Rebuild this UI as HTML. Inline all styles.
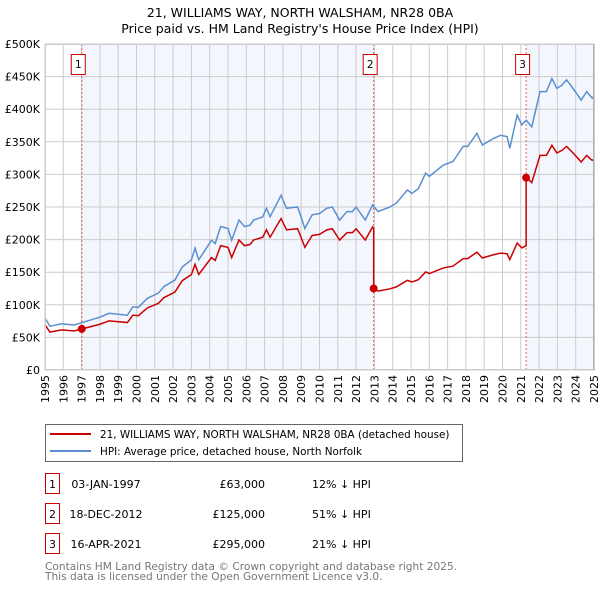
<!DOCTYPE html>
<html><head><meta charset="utf-8">
<style>
body{margin:0;background:#fff;font-family:"DejaVu Sans","Liberation Sans",sans-serif;}
svg text{font-family:"DejaVu Sans","Liberation Sans",sans-serif;}
</style></head>
<body>
<svg id="chart" width="600" height="590" xmlns="http://www.w3.org/2000/svg">
<text x="300" y="17" text-anchor="middle" font-size="12.5" fill="#000">21, WILLIAMS WAY, NORTH WALSHAM, NR28 0BA</text>
<text x="300" y="33" text-anchor="middle" font-size="12.5" fill="#000">Price paid vs. HM Land Registry's House Price Index (HPI)</text>
<g id="plot"></g>
<g>
<rect x="45.5" y="424.5" width="417" height="37" fill="#fff" stroke="#666"/>
<line x1="50" y1="434" x2="91" y2="434" stroke="#cc0000" stroke-width="2"/>
<text x="100" y="438" font-size="10.4">21, WILLIAMS WAY, NORTH WALSHAM, NR28 0BA (detached house)</text>
<line x1="50" y1="451" x2="91" y2="451" stroke="#5b8fd0" stroke-width="2"/>
<text x="100" y="455" font-size="10.4">HPI: Average price, detached house, North Norfolk</text>
</g>
<g id="table"></g>
<text x="45" y="570" font-size="10.6" fill="#777">Contains HM Land Registry data © Crown copyright and database right 2025.</text>
<text x="45" y="580" font-size="10.6" fill="#777">This data is licensed under the Open Government Licence v3.0.</text>
</svg>
<script>
const hpiYears=[1995.0,1995.27,1995.9,1996.6,1997.0,1998.0,1998.5,1999.5,1999.8,2000.1,2000.6,2001.2,2001.5,2002.1,2002.5,2003.0,2003.2,2003.4,2004.1,2004.3,2004.6,2005.0,2005.2,2005.6,2005.9,2006.2,2006.4,2006.9,2007.1,2007.3,2007.9,2008.2,2008.8,2008.93,2009.2,2009.6,2010.0,2010.4,2010.7,2011.1,2011.5,2011.8,2012.0,2012.5,2012.9,2013.2,2013.85,2014.2,2014.8,2015.05,2015.4,2015.8,2016.0,2016.75,2017.3,2017.85,2018.1,2018.6,2018.9,2019.5,2019.9,2020.25,2020.4,2020.8,2021.05,2021.3,2021.6,2022.05,2022.4,2022.7,2022.97,2023.25,2023.5,2023.85,2024.3,2024.6,2024.9,2025.0];
const hpiValues=[80,67,71,69,72.6,81,87,84,97,96,110,118,128,138,158,169,187,169,199,194,220,217,199,230,220,222,230,235,248,235,268,248,250,240,217,238,240,248,250,230,243,243,250,230,253,243,250,256,276,271,278,302,297,314,320,343,343,363,345,355,360,358,340,391,376,383,373,427,427,447,432,437,445,432,414,427,417,420];
const saleYears=[1997.01,2012.96,2021.29];
const salePrices=[63000,125000,295000];
const saleLabels=["1","2","3"];
const saleDates=["03-JAN-1997","18-DEC-2012","16-APR-2021"];
const salePriceText=["£63,000","£125,000","£295,000"];
const salePctText=["12% ↓ HPI","51% ↓ HPI","21% ↓ HPI"];
const yTicks=[0,50,100,150,200,250,300,350,400,450,500];
const yTickLabels=["£0","£50K","£100K","£150K","£200K","£250K","£300K","£350K","£400K","£450K","£500K"];
const xStart=1995,xEnd=2025;

const X0=45,X1=594,Y0=370,Y1=44;
const xs=t=>X0+(t-xStart)/(xEnd-xStart)*(X1-X0);
const ys=v=>Y0-v/500*(Y0-Y1);
const NS="http://www.w3.org/2000/svg";
const plot=document.getElementById('plot');
function mk(tag,attrs,parent){const e=document.createElementNS(NS,tag);for(const k in attrs)e.setAttribute(k,attrs[k]);(parent||plot).appendChild(e);return e;}
function hpiAt(t){for(let i=1;i<hpiYears.length;i++){if(t<=hpiYears[i]){const f=(t-hpiYears[i-1])/(hpiYears[i]-hpiYears[i-1]);return hpiValues[i-1]+f*(hpiValues[i]-hpiValues[i-1]);}}return hpiValues[hpiValues.length-1];}

const bands=[[saleYears[0],saleYears[1]],[saleYears[2],xEnd]];
bands.forEach(b=>{const r=mk('rect',{x:xs(b[0]),y:Y1,width:xs(b[1])-xs(b[0]),height:Y0-Y1,fill:'#f3f6fd'});

});
for(let yr=xStart;yr<=xEnd;yr++){const l=mk('line',{x1:xs(yr),x2:xs(yr),y1:Y1,y2:Y0,stroke:'#cccccc','stroke-width':1});


const tx=mk('text',{x:0,y:0,'font-size':11,'text-anchor':'end',transform:`translate(${xs(yr)+4},${Y0+5}) rotate(-90)`});
tx.textContent=String(yr);

}
yTicks.forEach((v,i)=>{const l=mk('line',{x1:X0,x2:X1,y1:ys(v),y2:ys(v),stroke:'#cccccc','stroke-width':1});


const tx=mk('text',{x:40,y:ys(v)+4,'font-size':11,'text-anchor':'end'});
tx.textContent=yTickLabels[i];

});
saleYears.forEach((t,i)=>{const l=mk('line',{x1:xs(t),x2:xs(t),y1:Y1,y2:Y0,stroke:'#e06060','stroke-width':1,'stroke-dasharray':'2,2'});


const r=mk('rect',{x:xs(t)-10.5,y:54.5,width:14,height:20,fill:'#fff',stroke:'#cc0000'});


const tx=mk('text',{x:xs(t)-3.5,y:68,'font-size':10.5,'text-anchor':'middle'});
tx.textContent=saleLabels[i];

});
const hp=mk('polyline',{points:hpiYears.map((t,i)=>xs(t)+','+ys(hpiValues[i])).join(' '),fill:'none',stroke:'#5b8fd0','stroke-width':1.5});


const factors=saleYears.map((t,i)=>salePrices[i]/1000/hpiAt(t));
let pts=[];
for(let i=0;i<hpiYears.length;i++){const t=hpiYears[i];
 for(let s=1;s<saleYears.length;s++){if(t>saleYears[s]&&(i===0||hpiYears[i-1]<=saleYears[s])){pts.push([saleYears[s],hpiAt(saleYears[s])*factors[s-1]]);pts.push([saleYears[s],salePrices[s]/1000]);}}
 let k=0;for(let s=1;s<saleYears.length;s++)if(t>saleYears[s])k=s;
 pts.push([t,hpiValues[i]*factors[k]]);}
const rp=mk('polyline',{points:pts.map(p=>xs(p[0])+','+ys(p[1])).join(' '),fill:'none',stroke:'#cc0000','stroke-width':1.5});


saleYears.forEach((t,i)=>{const c=mk('circle',{cx:xs(t),cy:ys(salePrices[i]/1000),r:4,fill:'#cc0000'});

});
mk('rect',{x:X0+0.5,y:Y1+0.5,width:X1-X0-1,height:Y0-Y1-1,fill:'none',stroke:'#cccccc'});
mk('line',{x1:X1,x2:X1,y1:Y1,y2:Y0,stroke:'#999'});
const tb=document.getElementById('table');
saleLabels.forEach((lab,i)=>{const cy=484+i*30;
const r=mk('rect',{x:45.5,y:cy-10.5,width:14,height:20,fill:'#fff',stroke:'#cc0000'},tb);


const cols=[[52.5,'middle',lab,'table-row-number'],[106,'middle',saleDates[i],'table-row-date'],[265,'end',salePriceText[i],'table-row-price'],[312,'start',salePctText[i],'table-row-hpi-diff']];
cols.forEach(c=>{const tx=mk('text',{x:c[0],y:cy+4,'font-size':11,'text-anchor':c[1]},tb);
tx.textContent=c[2];

});});
</script>
</body></html>
